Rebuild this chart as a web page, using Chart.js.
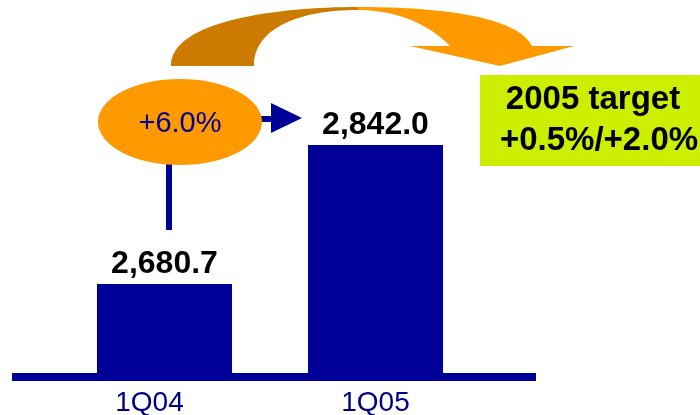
<!DOCTYPE html>
<html>
<head>
<meta charset="utf-8">
<script src="https://cdn.jsdelivr.net/npm/chart.js@4/dist/chart.umd.min.js"></script>
<style>
  html, body { margin: 0; padding: 0; background: #fff; }
  #wrap { width: 700px; height: 415px; }
</style>
</head>
<body>
<div id="wrap"><canvas id="chart" width="700" height="415"></canvas></div>
<script>
const quarters = ['1Q04', '1Q05'];
const revenue = [2680.7, 2842.0];
const growthLabel = '+6.0%';
const targetLines = ['2005 target', '+0.5%/+2.0%'];

// value axis is cut, bars start from this value
const yMin = 2572.8;
const yMax = 2975.4;

const NAVY = '#000099';
const fmt = (v) => v.toLocaleString('en-US', { minimumFractionDigits: 1, maximumFractionDigits: 1 });

const overlay = {
  id: 'overlay',
  afterDraw(chart) {
    const ctx = chart.ctx;
    const area = chart.chartArea;
    const xScale = chart.scales.x;
    const meta = chart.getDatasetMeta(0);
    ctx.save();

    // base line
    ctx.fillStyle = NAVY;
    ctx.fillRect(12, area.bottom - 4, 524, 8);

    // quarter labels (first one sits a bit left of its bar in the original)
    ctx.fillStyle = '#000080';
    ctx.font = '28px "Liberation Sans", Arial, sans-serif';
    ctx.textAlign = 'center';
    ctx.textBaseline = 'alphabetic';
    quarters.forEach((q, i) => {
      const shift = i === 0 ? -15 : 0;
      ctx.fillText(q, xScale.getPixelForTick(i) + shift, 411);
    });

    // value labels over bars
    ctx.fillStyle = '#000';
    ctx.font = 'bold 32px "Liberation Sans", Arial, sans-serif';
    meta.data.forEach((bar, i) => {
      ctx.fillText(fmt(revenue[i]), bar.x, bar.y - 11);
    });

    // curved arrow towards target
    const grad = ctx.createLinearGradient(171, 0, 575, 0);
    grad.addColorStop(0, '#CC7A00');
    grad.addColorStop(0.46, '#CC7A00');
    grad.addColorStop(0.465, '#FF9900');
    grad.addColorStop(1, '#FF9900');
    ctx.fillStyle = grad;
    ctx.beginPath();
    ctx.moveTo(171, 66);
    ctx.bezierCurveTo(171, 20, 280, 7, 357, 7);
    ctx.bezierCurveTo(475, 7, 522, 25, 532, 46);
    ctx.lineTo(574, 46);
    ctx.lineTo(500, 66);
    ctx.lineTo(410, 46);
    ctx.lineTo(450, 46);
    ctx.bezierCurveTo(425, 20, 390, 10, 357, 10);
    ctx.bezierCurveTo(300, 10, 254, 28, 254, 66);
    ctx.closePath();
    ctx.fill();

    // connector from 1Q04 label to growth bubble
    ctx.fillStyle = NAVY;
    ctx.fillRect(166, 160, 6, 70);
    ctx.fillRect(258, 116, 14, 6);
    ctx.beginPath();
    ctx.moveTo(271, 103);
    ctx.lineTo(302, 118);
    ctx.lineTo(271, 133);
    ctx.closePath();
    ctx.fill();

    // growth bubble
    ctx.fillStyle = '#FF9900';
    ctx.beginPath();
    ctx.ellipse(180, 122, 82, 43, 0, 0, Math.PI * 2);
    ctx.fill();
    ctx.fillStyle = NAVY;
    ctx.font = '29px "Liberation Sans", Arial, sans-serif';
    ctx.textBaseline = 'middle';
    ctx.fillText(growthLabel, 180, 124);

    // target box
    ctx.fillStyle = '#CCEE00';
    ctx.fillRect(480, 75, 220, 91);
    ctx.fillStyle = '#000';
    ctx.font = 'bold 33px "Liberation Sans", Arial, sans-serif';
    ctx.fillText(targetLines[0], 593, 100);
    ctx.fillText(targetLines[1], 599, 141);

    ctx.restore();
  }
};

new Chart(document.getElementById('chart'), {
  type: 'bar',
  data: {
    labels: quarters,
    datasets: [{
      data: revenue,
      backgroundColor: NAVY,
      borderWidth: 0,
      categoryPercentage: 0.8,
      barPercentage: 0.8
    }]
  },
  options: {
    responsive: false,
    animation: false,
    layout: { padding: { left: 59, right: 219, top: 30, bottom: 0 } },
    plugins: {
      legend: { display: false },
      tooltip: { enabled: false }
    },
    scales: {
      x: {
        grid: { display: false, drawTicks: false },
        border: { display: false },
        ticks: { display: false },
        afterFit: (scale) => { scale.height = 38; }
      },
      y: {
        display: false,
        min: yMin,
        max: yMax
      }
    }
  },
  plugins: [overlay]
});
</script>
</body>
</html>
